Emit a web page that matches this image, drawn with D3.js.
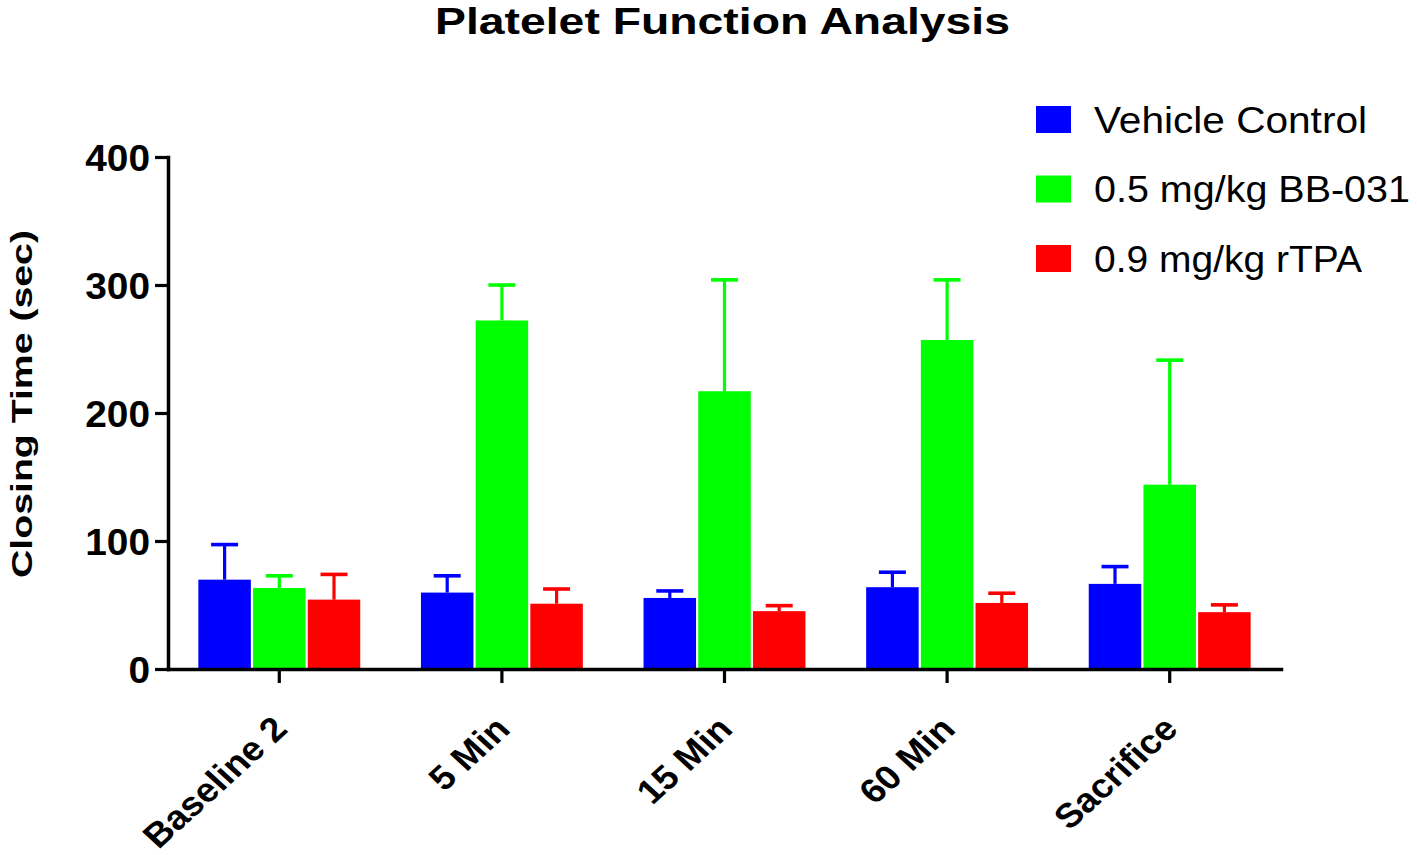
<!DOCTYPE html>
<html>
<head>
<meta charset="utf-8">
<script src="https://cdn.jsdelivr.net/npm/d3@7"></script>
<style>
  html, body { margin: 0; padding: 0; background: #fff; }
  svg { display: block; }
  text { font-family: "Liberation Sans", Arial, Helvetica, sans-serif; fill: #000; }
</style>
</head>
<body>
<svg id="chart" width="1417" height="855"></svg>
<script>
// ---- data ----
const categories = ["Baseline 2", "5 Min", "15 Min", "60 Min", "Sacrifice"];
const seriesNames = ["Vehicle Control", "0.5 mg/kg BB-031", "0.9 mg/kg rTPA"];
const vehicleMean = [69.8, 59.7, 55.5, 63.9, 66.5];
const vehicleErr  = [27.4, 13.1, 5.5, 11.7, 13.5];
const bb031Mean   = [63.3, 272.3, 217.0, 257.0, 144.0];
const bb031Err    = [9.5, 27.7, 87.0, 47.0, 97.3];
const rtpaMean    = [54.2, 51.0, 45.2, 51.6, 44.4];
const rtpaErr     = [19.7, 11.5, 4.3, 7.6, 5.7];
const yTicks = [0, 100, 200, 300, 400];
const seriesColors = ["#0000ff", "#00ff00", "#ff0000"];

const means = [vehicleMean, bb031Mean, rtpaMean];
const errs = [vehicleErr, bb031Err, rtpaErr];

// ---- layout ----
const svg = d3.select("#chart");
const mLeft = 168, mRight = 1281, mTop = 157, mBottom = 669;

const x = d3.scaleBand().domain(categories).range([mLeft, mRight]).padding(0);
const xs = d3.scaleBand().domain(seriesNames).range([0, x.bandwidth()])
  .paddingInner(0.04).paddingOuter(0.555);
const y = d3.scaleLinear().domain([0, 400]).range([mBottom, mTop]);
const color = d3.scaleOrdinal().domain(seriesNames).range(seriesColors);

const records = [];
seriesNames.forEach((s, si) => {
  categories.forEach((c, ci) => {
    records.push({ series: s, cat: c, mean: means[si][ci], err: errs[si][ci] });
  });
});

const cx = d => x(d.cat) + xs(d.series) + xs.bandwidth() / 2;

// error bars (upper only)
const capW = 27;
const eb = svg.append("g").attr("class", "errorbars");
eb.selectAll("line.stem").data(records).join("line")
  .attr("class", "stem")
  .attr("x1", cx).attr("x2", cx)
  .attr("y1", d => y(d.mean))
  .attr("y2", d => y(d.mean + d.err))
  .attr("stroke", d => color(d.series))
  .attr("stroke-width", 3.2);
eb.selectAll("line.cap").data(records).join("line")
  .attr("class", "cap")
  .attr("x1", d => cx(d) - capW / 2)
  .attr("x2", d => cx(d) + capW / 2)
  .attr("y1", d => y(d.mean + d.err))
  .attr("y2", d => y(d.mean + d.err))
  .attr("stroke", d => color(d.series))
  .attr("stroke-width", 3.6);

// bars
svg.append("g").selectAll("rect").data(records).join("rect")
  .attr("x", d => x(d.cat) + xs(d.series))
  .attr("width", xs.bandwidth())
  .attr("y", d => y(d.mean))
  .attr("height", d => y(0) - y(d.mean))
  .attr("fill", d => color(d.series));

// y axis
const yAxis = svg.append("g").attr("transform", `translate(${mLeft},0)`)
  .call(d3.axisLeft(y).tickValues(yTicks).tickSize(13).tickSizeOuter(0).tickFormat(d3.format("d")));
yAxis.attr("font-family", null).attr("font-size", null);
yAxis.select(".domain").attr("stroke", "#000").attr("stroke-width", 3.5).attr("stroke-linecap", "square");
yAxis.selectAll(".tick line").attr("stroke", "#000").attr("stroke-width", 3.2);
yAxis.selectAll(".tick text")
  .attr("x", null).attr("dy", "0.36em")
  .attr("text-anchor", "end")
  .attr("transform", "translate(-18,0) scale(1.05,1)")
  .style("font-size", "37px").style("font-weight", "bold");

// x axis
const xAxis = svg.append("g").attr("transform", `translate(0,${mBottom})`)
  .call(d3.axisBottom(x).tickSize(14).tickSizeOuter(0));
xAxis.attr("font-family", null).attr("font-size", null);
xAxis.select(".domain").attr("stroke", "#000").attr("stroke-width", 3.5).attr("stroke-linecap", "square");
xAxis.selectAll(".tick line").attr("stroke", "#000").attr("stroke-width", 3.2);
xAxis.selectAll(".tick text")
  .attr("y", null).attr("dy", null)
  .attr("text-anchor", "end")
  .attr("transform", "translate(10,62) scale(1.1,1) rotate(-45)")
  .style("font-size", "34px").style("font-weight", "bold");

// title
svg.append("text")
  .attr("x", 722.5).attr("y", 34)
  .attr("text-anchor", "middle")
  .attr("textLength", 575).attr("lengthAdjust", "spacingAndGlyphs")
  .style("font-size", "37px").style("font-weight", "bold")
  .text("Platelet Function Analysis");

// y axis title
svg.append("text")
  .attr("transform", "translate(32,404) rotate(-90)")
  .attr("text-anchor", "middle")
  .attr("textLength", 348).attr("lengthAdjust", "spacingAndGlyphs")
  .style("font-size", "29px").style("font-weight", "bold")
  .text("Closing Time (sec)");

// legend
const legendLengths = [273, 316, 268];
const lg = svg.append("g").selectAll("g").data(seriesNames).join("g")
  .attr("transform", (d, i) => `translate(1036,${106 + i * 69.5})`);
lg.append("rect").attr("width", 35).attr("height", 27).attr("fill", d => color(d));
lg.append("text")
  .attr("x", 58).attr("y", 26.5)
  .attr("textLength", (d, i) => legendLengths[i]).attr("lengthAdjust", "spacingAndGlyphs")
  .style("font-size", "36px")
  .text(d => d);
</script>
</body>
</html>
